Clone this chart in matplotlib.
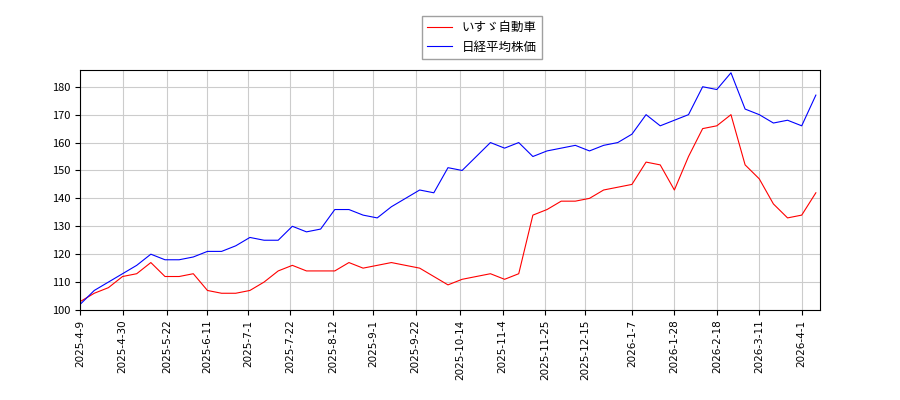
import matplotlib
matplotlib.use('Agg')
import matplotlib.pyplot as plt
import matplotlib.dates as mdates
import pandas as pd

plt.rcParams['font.family'] = ['Noto Sans CJK JP', 'DejaVu Sans']

# ---- data (weekly readings, normalised to 100 at start) ----
dates = pd.date_range('2025-04-09', periods=53, freq='7D')
isuzu = [103, 106, 108, 112, 113, 117, 112, 112, 113, 107, 106, 106, 107, 110,
         114, 116, 114, 114, 114, 117, 115, 116, 117, 116, 115, 112, 109, 111,
         112, 113, 111, 113, 134, 136, 139, 139, 140, 143, 144, 145, 153, 152,
         143, 155, 165, 166, 170, 152, 147, 138, 133, 134, 142]
nikkei = [102, 107, 110, 113, 116, 120, 118, 118, 119, 121, 121, 123, 126, 125,
          125, 130, 128, 129, 136, 136, 134, 133, 137, 140, 143, 142, 151, 150,
          155, 160, 158, 160, 155, 157, 158, 159, 157, 159, 160, 163, 170, 166,
          168, 170, 180, 179, 185, 172, 170, 167, 168, 166, 177]
tick_labels = ['2025-4-9', '2025-4-30', '2025-5-22', '2025-6-11', '2025-7-1',
               '2025-7-22', '2025-8-12', '2025-9-1', '2025-9-22', '2025-10-14',
               '2025-11-4', '2025-11-25', '2025-12-15', '2026-1-7', '2026-1-28',
               '2026-2-18', '2026-3-11', '2026-4-1']

fig = plt.figure(figsize=(9, 4), dpi=100)
ax = fig.add_axes([0.089, 0.225, 0.822, 0.6])
ax.plot(dates, isuzu, color='red', linewidth=0.8, label='いすゞ自動車')
ax.plot(dates, nikkei, color='blue', linewidth=0.8, label='日経平均株価')

ticks = pd.to_datetime(tick_labels)
ax.set_xticks(ticks)
ax.set_xticklabels(tick_labels, rotation=90, fontsize=7.5, family='DejaVu Sans')
ax.tick_params(axis='y', labelsize=8)
ax.set_xlim(pd.Timestamp('2025-04-09'), pd.Timestamp('2026-04-10'))
ax.set_ylim(100, 186)
ax.grid(True, color='#cccccc', linewidth=0.8)
fig.legend(loc='upper center', bbox_to_anchor=(0.535, 0.975), fontsize=9,
           fancybox=False, edgecolor='#888888')
fig.savefig('out.png')
